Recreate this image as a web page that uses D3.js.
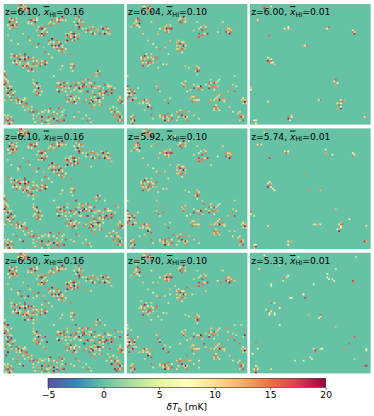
<!DOCTYPE html>
<html>
<head>
<meta charset="utf-8">
<script src="https://cdn.jsdelivr.net/npm/d3@7"></script>
<style>
  html, body { margin: 0; background: #fff; }
  text { font-family: "DejaVu Sans"; fill: #000; }
  .x-bar { font-style: italic; text-decoration: overline; }
</style>
</head>
<body>
<div id="chart"></div>
<script>
const redshifts = [["6.10", "6.04", "6.00"], ["6.10", "5.92", "5.74"], ["6.50", "5.70", "5.33"]];
const xHI = ["0.16", "0.10", "0.01"];
const spectral = ["#5e4fa2", "#3288bd", "#66c2a5", "#abdda4", "#e6f598", "#ffffbf", "#fee08b", "#fdae61", "#f46d43", "#d53e4f", "#9e0142"];
const colorStops = [-5, -2.5, 0, 2.5, 5, 7.5, 10, 12.5, 15, 17.5, 20];
const barTicks = [-5, 0, 5, 10, 15, 20];

// [x, y, dTb] with x and y in percent of the panel, read by eye
const cellsLeft = [
  [14,2,14],[15,1,18],[16,3,11],[17,2,20],[18,4,16],[15,4,10],[19,1,13],[20,3,19],[13,5,9],[17,5,17],[19,5,11],[16,6,20],
  [6,13,12],[7,12,18],[8,14,10],[9,13,16],[5,15,20],[7,16,11],[9,16,14],[10,15,8],[6,18,17],[8,18,20],[10,19,13],[5,20,9],[8,20,15],
  [20,15,11],[22,14,17],[23,16,9],[25,13,14],[26,15,19],[27,12,10],[24,17,13],
  [29,19,10],[30,21,17],[31,18,13],[32,20,20],[33,22,11],[34,19,16],[35,21,9],[30,24,15],[32,24,20],[34,24,12],[33,26,18],[31,26,10],
  [38,16,11],[40,14,16],[41,16,10],[42,13,19],[44,15,13],[45,13,9],[46,12,17],[47,14,12],[48,11,20],[49,13,10],[50,12,15],[43,17,14],
  [60,12,12],[62,11,17],[63,14,10],[61,16,19],[64,17,14],[66,15,11],[63,19,20],[65,20,9],
  [52,28,13],[53,26,19],[54,24,10],[55,29,16],[56,26,11],[57,24,17],[58,27,20],[59,23,14],[60,26,9],[61,29,18],[62,24,12],[57,30,10],[53,30,20],
  [68,20,11],[70,22,18],[71,19,13],[73,23,10],[75,21,15],[76,24,9],[78,22,12],[79,24,17],
  [81,19,11],[82,21,20],[84,20,14],[85,23,10],[86,22,17],[88,24,12],[84,24,20],
  [38,30,16],[39,32,10],[40,29,20],[41,33,13],[42,31,9],[43,34,18],[44,32,14],[45,36,11],[46,34,20],[47,37,15],[48,35,10],[49,38,17],[50,40,12],[44,37,19],[46,39,9],
  [16,25,11],[20,27,16],[22,30,10],[24,33,14],[27,36,9],[29,33,18],[33,36,12],[35,40,16],[37,42,10],[52,38,11],[55,41,15],
  [6,42,10],[8,45,14],[9,43,19],[11,47,11],[12,44,16],[13,48,9],[14,46,20],[15,49,13],[16,45,10],[17,43,17],[18,47,15],[19,50,11],[20,44,20],[21,48,9],[22,46,14],[16,51,18],[18,52,10],[20,53,16],[22,51,12],[23,54,19],[25,52,11],[26,49,15],[24,47,10],[27,55,13],[13,42,12],[18,41,18],[21,55,10],[10,50,17],
  [29,49,12],[30,51,17],[31,47,10],[33,48,15],[34,50,20],[35,47,11],
  [24,63,11],[25,65,16],[26,67,10],[28,66,19],[27,69,13],[29,70,20],[26,71,9],[28,72,15],[30,68,11],[29,74,18],[30,76,10],[27,74,12],
  [45,66,11],[46,69,14],[47,67,19],[48,71,10],[49,66,13],[50,69,17],[51,72,9],[52,68,15],[46,72,20],
  [54,70,11],[56,68,18],[58,71,10],[59,69,15],[61,66,12],[62,70,20],[64,68,10],[65,65,16],[66,71,13],[67,67,20],[68,63,11],[69,69,15],[71,65,10],[72,68,18],[73,63,14],[75,70,9],[76,66,17],[63,72,11],[70,72,19],
  [77,70,12],[79,72,18],[80,68,10],[81,74,15],[82,70,11],[84,67,17],[85,72,20],[86,69,9],[88,71,13],[89,74,19],[90,68,11],[91,72,15],[83,76,10],
  [52,78,15],[53,81,10],[55,77,19],[56,80,12],[57,83,16],[58,78,9],[59,81,20],[60,77,11],[61,80,14],
  [69,80,11],[71,83,17],[72,78,10],[73,76,14],[74,81,20],[75,79,11],[76,75,18],[77,82,13],[78,78,20],[79,81,9],[80,76,12],[81,84,16],[75,84,10],[67,81,15],
  [0,56,12],[1,59,18],[2,62,9],[0,64,15],[3,65,11],[1,67,20],[4,69,14],[2,71,10],[5,72,17],[6,68,11],[7,71,19],[8,74,10],[3,74,20],[1,76,13],[5,77,9],[7,78,16],[0,79,11],
  [9,81,14],[10,79,10],[12,80,18],[13,83,9],[14,78,13],[15,81,20],[16,79,10],[17,83,15],[18,80,11],
  [20,87,11],[22,90,16],[24,92,10],[26,88,15],[27,94,19],[29,91,9],[30,95,13],[32,93,20],[33,90,11],[35,92,14],[36,96,10],[37,94,17],[38,90,9],[40,92,15],[41,95,20],[42,89,11],[43,93,13],[44,97,18],[45,91,10],[46,87,16],[47,94,12],[48,85,14],[49,90,9],[50,96,19],[28,98,14],[31,99,10],[34,98,17],[38,97,11],[19,84,15],[23,85,10],
  [2,94,12],[3,97,19],[4,92,10],[5,95,16],[6,98,11],[7,93,14],[5,99,20],[2,99,9],
  [88,86,11],[90,88,15],[91,85,9],[92,90,18],[93,87,11],[94,92,14],[95,90,10],[96,94,20],[97,91,12],[95,96,17],[97,97,11],
  [95,79,11],[96,82,16],[97,78,10],[98,81,19],[99,79,13],
  [56,50,11],[58,52,17],[57,55,10],[59,49,14],[47,54,11],[48,52,9],[76,59,14],[78,56,19],[80,55,10],[77,60,11],
  [66,95,11],[70,97,16],[73,98,10],[62,90,12],[58,93,9],
  [12,3,10],[14,5,18],[16,1,11],[18,2,9],[20,5,14],[13,1,16],
  [5,12,11],[6,16,15],[9,18,10],[11,17,17],[7,19,12],[4,17,9],[10,12,11],
  [21,16,10],[24,14,11],[26,12,15],[28,14,9],[23,13,18],
  [28,22,11],[31,23,10],[33,19,14],[35,24,17],[29,26,11],[36,23,10],
  [39,15,9],[41,13,13],[44,12,10],[46,15,18],[48,14,11],[51,14,10],[39,17,15],
  [62,15,11],[64,13,16],[60,18,10],[66,18,14],[62,21,17],[59,15,9],
  [51,25,11],[54,27,15],[56,28,10],[59,25,19],[60,29,11],[63,27,14],[55,23,10],[52,31,11],[58,30,17],
  [69,23,10],[72,21,15],[74,19,11],[77,20,13],[74,24,19],
  [83,23,11],[85,19,16],[87,20,10],[89,22,14],[87,25,11],
  [38,33,11],[40,35,18],[42,36,10],[44,30,15],[46,31,11],[47,33,18],[49,36,10],[42,29,14],[48,40,15],[51,38,10],[45,38,14],
  [7,44,11],[9,47,18],[11,43,10],[13,45,14],[15,44,11],[17,46,20],[19,45,10],[21,46,15],[14,50,11],[17,50,14],[19,52,19],[21,50,11],[24,50,17],[25,55,10],[28,52,11],[11,49,10],[8,48,9],[16,53,11],[22,54,15],[24,44,10],[26,46,14],
  [28,47,10],[30,49,15],[32,50,11],[34,47,17],[36,49,10],
  [24,66,9],[26,69,15],[28,68,10],[30,71,14],[25,73,11],[28,76,16],[31,73,10],
  [44,68,15],[46,65,10],[48,68,11],[50,66,18],[49,73,14],[51,70,11],[53,66,10],[44,71,9],
  [55,72,11],[57,66,14],[60,70,10],[60,67,17],[63,66,11],[65,69,19],[64,72,9],[66,64,12],[68,67,10],[69,72,15],[70,63,17],[71,69,11],[73,66,10],[74,68,15],[74,72,11],[66,62,15],
  [78,68,11],[79,74,10],[81,70,15],[83,72,11],[84,74,18],[86,67,11],[87,73,15],[88,68,10],[90,71,18],[92,70,11],[86,76,16],
  [53,76,11],[54,79,16],[56,78,10],[57,76,15],[58,80,11],[60,83,10],[55,83,14],[62,78,10],
  [70,78,14],[72,81,11],[73,79,18],[75,77,10],[77,76,15],[77,79,11],[79,78,18],[79,84,11],[72,85,15],[80,80,11],[82,78,10],[76,86,14],
  [1,56,10],[2,60,15],[0,61,11],[2,65,17],[4,64,10],[0,68,11],[3,70,18],[5,69,10],[6,74,14],[4,75,11],[2,78,15],[6,79,11],[8,76,17],[9,72,10],
  [10,82,11],[11,78,16],[13,81,10],[15,84,14],[17,78,10],[19,82,17],[16,85,11],
  [18,88,10],[21,85,14],[23,88,11],[25,90,18],[25,95,10],[28,89,15],[28,93,11],[31,90,10],[31,96,16],[34,88,11],[34,94,14],[37,88,10],[39,87,18],[39,95,11],[41,90,10],[44,90,15],[45,95,11],[46,98,16],[48,92,10],[48,97,15],[50,88,11],[51,92,17],[37,99,11],[42,99,14],[26,98,10],
  [1,92,10],[2,96,15],[4,95,11],[6,93,10],[8,96,16],[7,99,11],[3,99,14],
  [89,90,10],[91,92,15],[93,89,11],[95,92,16],[96,96,11],[98,93,10],[92,94,14],[98,97,15],
  [96,77,11],[97,80,15],[99,83,10],[95,83,14],
  [57,50,10],[59,53,15],[56,53,9],[77,57,11],[79,58,16],[68,92,10],[71,95,11],[60,95,14],[6,30,10],[3,26,11],[12,33,9],[40,45,10],[42,60,9]
];
const cellsLeftMid = [
  [12,34,11],[14,31,17],[31,43,10],[36,45,14],[25,58,9],[53,62,12],[60,60,18],[62,62,10],[92,64,16],[95,66,11],[84,60,9],
  [8,88,11],[10,90,16],[13,92,10],[16,94,19],[55,92,11],[60,88,16],[85,90,10],[68,30,14],[72,32,10],[3,40,15],[90,28,11]
];
const cellsLeftLow = [
  [15,36,18],[18,38,11],[20,36,20],[22,41,14],[24,38,10],[17,55,19],[23,44,18],[12,50,20],[8,50,11],
  [34,70,18],[36,74,20],[33,78,11],[35,80,15],[4,60,20],[6,62,11],[2,85,18],[4,83,20],[12,87,14],
  [92,96,20],[94,98,18],[90,92,20],[86,84,11],[88,80,17],[67,75,20],[72,73,11],[48,88,18],[42,98,20],[30,88,11],[96,70,18],[98,66,11]
];
const cellsMiddle = [
  [14,2,11],[15,4,18],[16,1,14],[17,3,20],[18,5,10],[19,2,16],[20,4,12],[21,6,19],[13,6,10],
  [7,13,14],[8,15,10],[9,12,18],[10,16,20],[8,17,11],[11,14,12],[7,18,16],[10,19,9],[3,19,11],
  [14,25,11],[20,15,10],[24,14,14],[28,21,9],[26,25,12],
  [30,20,14],[31,22,10],[32,19,17],[33,21,20],[34,23,11],[35,20,15],[36,18,9],[37,21,18],[33,18,12],
  [43,13,11],[44,15,18],[45,12,10],[46,14,15],[47,11,20],[48,15,9],[49,13,13],
  [55,22,11],[58,28,14],[60,24,18],[61,19,10],[62,26,16],[63,22,20],[64,18,12],[65,25,11],[66,21,15],[67,24,19],[60,28,17],[58,15,10],[59,8,12],
  [75,23,9],[82,21,12],[83,23,18],[84,20,10],[85,24,20],[86,22,11],[87,23,15],[80,15,10],
  [41,31,11],[42,34,16],[43,30,10],[44,33,19],[45,36,13],[46,32,10],[47,35,20],[48,33,14],[45,39,17],[46,40,9],[43,37,11],[48,38,12],
  [17,30,11],[25,36,10],[27,38,15],[32,36,11],[35,42,10],[22,33,9],[36,30,12],
  [12,46,11],[13,44,16],[14,48,10],[15,43,19],[16,46,14],[17,49,20],[18,44,10],[19,47,17],[20,42,11],[21,49,15],[22,46,9],[14,51,18],[18,51,11],[24,48,13],[26,53,10],[25,45,16],[16,41,10],[30,50,9],[33,50,11],
  [49,52,11],[51,53,10],[57,53,14],[58,56,20],[59,52,11],[60,55,16],[58,58,10],
  [46,66,11],[47,69,17],[48,64,10],[49,68,13],[50,72,9],[53,71,11],[56,70,18],[58,69,10],[60,71,15],[61,68,20],[63,71,11],[66,67,10],[68,66,16],[69,70,19],[70,63,11],[72,68,14],[73,65,18],[75,64,10],[76,68,12],[72,71,10],[77,63,9],
  [24,68,11],[26,71,16],[27,73,10],[28,66,14],[32,80,12],[34,82,18],[36,78,10],
  [0,69,18],[1,72,11],[2,74,20],[3,71,14],[4,75,10],[5,73,17],[6,76,12],[7,74,19],[8,78,11],[1,78,16],[3,80,10],[5,80,20],[0,76,9],[9,70,10],[1,60,11],
  [13,80,14],[14,83,10],[15,79,18],[16,82,11],[17,85,20],[18,81,13],[19,84,9],[20,86,17],[10,83,11],
  [53,78,12],[54,81,16],[55,77,10],[56,80,19],[57,79,11],[58,81,14],[60,80,10],
  [74,78,11],[75,80,18],[76,77,10],[77,79,20],[78,76,15],[79,80,11],[80,78,17],[81,81,10],[70,79,12],[68,81,14],
  [72,85,16],[73,88,11],[74,84,10],[75,87,20],[76,85,14],[77,88,10],
  [86,70,14],[88,67,11],[89,72,17],[91,69,10],[84,72,12],
  [95,79,11],[96,82,17],[97,78,10],[98,81,20],[99,79,13],[100,83,11],[97,83,10],
  [28,94,11],[29,92,15],[30,95,10],[31,93,18],[32,96,20],[33,94,11],[34,91,16],[35,96,10],[36,94,14],[37,92,9],[38,95,17],
  [41,89,11],[43,91,16],[45,88,10],[46,92,19],[47,90,14],[48,95,11],[49,93,20],[50,97,15],[42,96,10],[51,89,12],
  [3,93,10],[4,95,17],[5,92,11],[6,97,20],[4,98,11],[7,94,14],[5,99,16],
  [92,91,11],[93,93,15],[94,90,10],[95,94,19],[96,92,12],[97,96,17],[88,90,10],[85,85,11],
  [15,88,11],[20,92,16],[22,95,10],[55,92,11],[60,95,10],[90,60,10],
  [15,2,10],[17,5,15],[19,4,11],[16,6,14],[8,13,11],[10,14,17],[9,17,10],[7,16,11],
  [31,19,10],[33,23,16],[35,22,11],[36,20,18],[32,22,11],[34,18,14],
  [44,12,10],[46,16,16],[48,12,11],[60,20,10],[62,22,15],[64,25,11],[62,28,14],[66,19,10],
  [83,21,15],[85,21,11],[87,20,14],[84,23,10],
  [41,34,10],[43,32,15],[44,35,11],[46,37,16],[47,31,10],[44,39,14],[42,37,11],[49,35,9],
  [12,44,10],[13,47,15],[15,46,11],[15,50,14],[17,45,10],[18,48,16],[19,50,11],[20,45,15],[21,44,10],[22,48,11],[16,49,10],[24,46,15],
  [57,55,11],[59,54,15],[60,53,10],[47,67,11],[49,65,14],[56,67,10],[60,69,11],[62,70,15],[68,68,11],[70,66,10],[71,69,15],[74,66,11],[74,69,14],
  [1,70,11],[2,72,10],[4,71,15],[3,76,11],[6,72,10],[2,77,18],[6,78,11],[4,79,14],
  [14,81,11],[16,80,10],[17,82,15],[18,83,10],[19,80,14],
  [54,77,11],[55,80,10],[57,77,14],[58,79,10],[74,76,14],[76,79,11],[77,76,10],[79,78,14],[81,79,11],[73,80,10],
  [73,86,11],[74,87,16],[76,87,10],[28,92,10],[30,93,11],[32,92,16],[34,95,11],[36,96,14],[43,94,10],[45,90,15],[47,93,11],[49,90,14],[50,94,10],
  [4,94,11],[6,94,15],[5,96,10],[97,93,10],[95,92,14],[94,96,11],[96,78,10],[98,79,11]
];
const cellsMiddleMid = [
  [10,8,11],[40,6,10],[52,10,9],[70,30,10],[24,60,11],[30,70,16],[62,60,11],[64,62,16],[90,85,10],[11,90,10],[39,88,16]
];
const cellsMiddleLow = [
  [8,9,11],[22,24,10],[36,35,9],[12,40,10],[11,46,11],[29,56,10],[3,64,11],[0,62,10],[2,82,18],[28,74,19],[31,77,11],[30,79,20],
  [40,28,11],[50,29,16],[54,35,10],[66,32,11],[78,25,16],[90,23,11],[95,60,10],[98,64,14],[96,70,11],[93,76,16],[98,68,19],
  [50,85,16],[53,90,11],[56,84,10],[60,90,9],[64,75,17],[66,78,11],[44,76,10],[82,62,14],[84,66,10],[20,55,10],[18,58,14]
];
const cellsRightTop = [
  [12,3,19],[13,2,15],[13,4,12],[18,2,9],[8,13,14],[7,14,9],[16,26,16],
  [29,20,8],[30,21,15],[31,19,7],[32,21,9],[33,20,13],[63,21,13],[64,20,8],[65,19,16],[85,22,8],[85,23,16],[86,24,19],[87,23,9],
  [44,35,9],[45,35,14],[46,35,8],[47,34,16],
  [15,45,8],[16,46,12],[15,47,19],[17,46,9],[16,48,15],[18,47,16],[19,49,8],[17,49,9],[20,50,12],
  [71,62,16],[70,64,9],[71,66,14],[72,65,8],[71,68,13],[1,70,12],[0,71,9],[16,82,14],[15,81,9],[58,79,16],[57,80,9],
  [73,83,9],[74,81,14],[75,80,19],[76,79,8],[77,81,15],[78,79,13],[75,83,7],[74,84,16],[73,86,13],[75,87,19],[76,85,8],
  [95,93,9],[96,94,14],[31,95,19],[32,94,16],[33,96,9],[34,92,12],[35,93,8],[5,96,8],[5,98,12],[5,99,9],[4,97,7]
];
const cellsRightMid = [
  [13,2,14],[12,3,9],[8,13,16],[7,14,8],[9,14,9],[16,25,18],[29,19,9],[30,20,16],[31,19,8],[31,21,12],
  [63,18,9],[63,20,13],[62,22,14],[69,22,8],[85,21,8],[85,23,15],[86,22,9],[46,38,14],
  [15,46,9],[16,45,8],[15,48,19],[16,47,16],[17,49,8],[17,46,12],[19,50,9],[20,52,6],[49,52,14],[58,52,12],
  [71,67,12],[1,69,16],[0,71,9],[4,73,5],[15,81,9],[16,82,14],[58,79,9],[57,80,12],[54,79,5],[53,80,4],
  [74,79,9],[75,80,16],[76,81,8],[74,82,14],[73,84,9],[74,85,19],[75,83,8],[75,78,12],[77,80,16],
  [83,76,8],[95,93,19],[96,94,16],[97,93,12],[32,94,9],[33,96,14],[31,97,8],[34,93,12],[4,97,9],[5,98,19],[4,99,12],[5,96,8],[97,81,9]
];
const cellsRightLow = [
  [13,3,12],[12,2,8],[8,13,14],[8,14,9],[29,20,14],[30,20,9],[31,19,8],[17,26,8],[17,27,9],
  [64,17,7],[64,21,8],[65,22,7],[69,22,10],[70,23,8],[85,23,18],[86,24,14],[53,26,6],[44,34,9],[45,34,8],[46,38,18],[33,37,8],[34,38,7],
  [18,41,16],[21,41,6],[24,44,14],[25,46,8],[15,48,16],[16,50,8],[16,51,7],[17,49,9],[20,50,9],[21,51,8],[13,47,5],
  [49,52,12],[58,53,9],[59,52,16],[57,54,6],[71,61,12],[24,60,8],[5,74,15],[7,79,6],[2,84,8],
  [83,76,16],[86,70,16],[78,79,14],[53,80,9],[54,81,18],[55,82,14],[59,80,9],[60,80,7],[97,79,8],[97,81,7],
  [50,87,9],[51,88,6],[37,90,5],[44,90,7],[95,93,16],[96,93,19],[5,94,9],[5,96,16],[4,97,8],[6,95,12],[4,98,14],[5,99,19],[6,97,8],
  [40,3,5],[60,6,4],[24,10,4],[88,4,4],[71,13,5],[18,96,5],[87,88,4],[28,23,5]
];

const panelCells = [
  [cellsLeft, cellsMiddle, cellsRightTop],
  [cellsLeft.concat(cellsLeftMid), cellsMiddle.concat(cellsMiddleMid), cellsRightMid],
  [cellsLeft.concat(cellsLeftMid, cellsLeftLow), cellsMiddle.concat(cellsMiddleLow), cellsRightLow]
];

const width = 374;
const height = 416;
const panelSize = 120.6;
const panelX = [3.7, 126.8, 250];
const panelY = [4, 128.4, 252.8];
const gridSize = 71;

const color = d3.scaleLinear().domain(colorStops).range(spectral).interpolate(d3.interpolateRgb);
const percent = d3.scaleLinear().domain([0, 100]).range([0, gridSize]);
const cellScale = d3.scaleBand().domain(d3.range(gridSize)).range([0, panelSize]);
const gridIndex = v => Math.min(Math.floor(percent(v)), gridSize - 1);

const svg = d3.select("#chart").append("svg").attr("width", width).attr("height", height);

panelCells.forEach((row, i) => {
  row.forEach((cells, j) => {
    const g = svg.append("g").attr("transform", `translate(${panelX[j]},${panelY[i]})`);

    g.append("rect")
      .attr("width", panelSize)
      .attr("height", panelSize)
      .attr("fill", color(0));

    g.selectAll(".cell")
      .data(cells)
      .enter()
      .append("rect")
        .attr("class", "cell")
        .attr("x", d => cellScale(gridIndex(d[0])))
        .attr("y", d => cellScale(gridIndex(d[1])))
        .attr("width", cellScale.bandwidth())
        .attr("height", cellScale.bandwidth())
        .attr("fill", d => color(d[2]));

    const label = g.append("text")
      .attr("x", 1.2)
      .attr("y", 11.2)
      .attr("font-size", 9.2);
    label.append("tspan").text(`z=${redshifts[i][j]}, `);
    label.append("tspan").attr("class", "x-bar").text("x");
    label.append("tspan").attr("dy", 1.5).attr("font-size", 6.5).text("HI");
    label.append("tspan").attr("dy", -1.5).text(`=${xHI[j]}`);
  });
});

// colour bar
const barLeft = 48;
const barTop = 378.3;
const barWidth = 277.7;
const barHeight = 9;
const barScale = d3.scaleLinear().domain([-5, 20]).range([0, barWidth]);

const gradient = svg.append("defs").append("linearGradient").attr("id", "bar-gradient");
gradient.selectAll("stop")
  .data(colorStops)
  .enter()
  .append("stop")
    .attr("offset", d => barScale(d) / barWidth)
    .attr("stop-color", d => color(d));

const bar = svg.append("g").attr("transform", `translate(${barLeft},${barTop})`);

bar.append("rect")
  .attr("width", barWidth)
  .attr("height", barHeight)
  .attr("fill", "url(#bar-gradient)")
  .attr("stroke", "#222")
  .attr("stroke-width", 0.6);

const barAxis = bar.append("g")
  .attr("transform", `translate(0,${barHeight})`)
  .call(d3.axisBottom(barScale).tickValues(barTicks).tickSize(2.5).tickPadding(2));
barAxis.select(".domain").remove();
barAxis.selectAll("line").attr("stroke", "#222").attr("stroke-width", 0.6);
barAxis.selectAll("text").attr("font-size", 9.2).attr("font-family", "DejaVu Sans").attr("fill", "#000");

const barLabel = svg.append("text")
  .attr("x", barLeft + barWidth / 2)
  .attr("y", 410)
  .attr("text-anchor", "middle")
  .attr("font-size", 9.2);
barLabel.append("tspan").attr("font-style", "italic").text("δT");
barLabel.append("tspan").attr("dy", 1.5).attr("font-size", 6.5).text("b");
barLabel.append("tspan").attr("dy", -1.5).text(" [mK]");
</script>
</body>
</html>
